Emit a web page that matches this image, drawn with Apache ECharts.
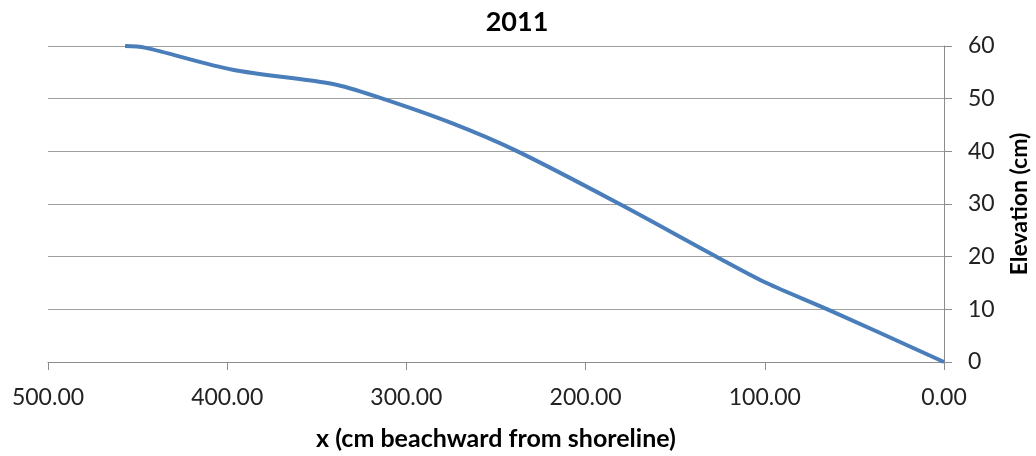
<!DOCTYPE html>
<html lang="en">
<head>
    <meta charset="UTF-8">
    <title>2011</title>
    <script src="https://cdn.jsdelivr.net/npm/echarts@6/dist/echarts.min.js"></script>
    <style>
        body { margin: 0; background: #fff; }
    </style>
</head>
<body>
    <div id="main" style="width: 1036px;height:456px;"></div>
    <script type="text/javascript">
        // profile points, x (cm beachward) and elevation (cm)
        var xValues = [0, 65, 99, 127, 181, 238, 275, 315, 341, 397, 446, 457];
        var elevation = [0, 10, 15, 20, 30, 40, 45.4, 50.2, 52.8, 55.5, 59.7, 60];
        var xTicks = [0, 100, 200, 300, 400, 500];
        var yTicks = [0, 10, 20, 30, 40, 50, 60];

        var points = xValues.map(function (x, i) { return [x, elevation[i]]; });

        var font = 'Lato, "Open Sans", sans-serif';
        var myChart = echarts.init(document.getElementById('main'));

        var option = {
            backgroundColor: '#ffffff',
            animation: false,
            title: {
                text: '2011',
                left: 512,
                top: 4,
                textAlign: 'center',
                textStyle: { fontFamily: font, fontSize: 27, fontWeight: 'bold', color: '#000' }
            },
            grid: { left: 48, right: 92, top: 46, bottom: 94, outerBoundsMode: 'none' },
            xAxis: {
                type: 'value',
                inverse: true,
                min: xTicks[0],
                max: xTicks[xTicks.length - 1],
                interval: 100,
                name: 'x (cm beachward from shoreline)',
                nameLocation: 'middle',
                nameGap: 64,
                nameTextStyle: { fontFamily: font, fontSize: 25, fontWeight: 'bold', color: '#000' },
                axisLine: { lineStyle: { color: '#8c8c8c', width: 1 } },
                axisTick: { show: true, length: 8, lineStyle: { color: '#8c8c8c' } },
                axisLabel: {
                    margin: 24,
                    fontFamily: font, fontSize: 23, color: '#222',
                    formatter: function (v) { return v.toFixed(2); }
                },
                splitLine: { show: false }
            },
            yAxis: {
                type: 'value',
                position: 'right',
                min: yTicks[0],
                max: yTicks[yTicks.length - 1],
                interval: 10,
                name: 'Elevation (cm)',
                nameLocation: 'middle',
                nameRotate: 90,
                nameGap: 64,
                nameTextStyle: { fontFamily: font, fontSize: 23, fontWeight: 'bold', color: '#000' },
                axisLine: { show: true, lineStyle: { color: '#8c8c8c', width: 1 } },
                axisTick: { show: true, length: 8, lineStyle: { color: '#8c8c8c' } },
                axisLabel: { margin: 24, fontFamily: font, fontSize: 23, color: '#222' },
                splitLine: { show: true, lineStyle: { color: '#a0a0a0', width: 1 } }
            },
            series: [{
                type: 'line',
                data: points,
                smooth: 0.3,
                showSymbol: false,
                lineStyle: { color: '#4a7ebb', width: 4 },
                clip: false
            }]
        };

        myChart.setOption(option);
    </script>
</body>
</html>
